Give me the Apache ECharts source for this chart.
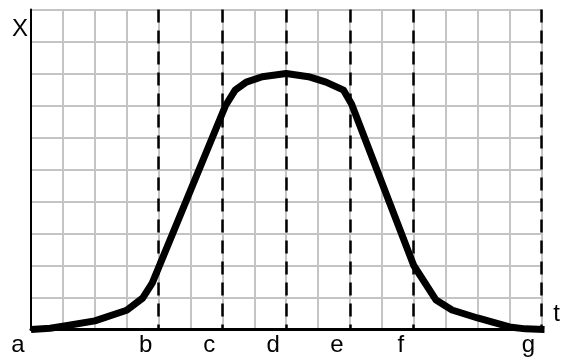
<!DOCTYPE html>
<html>
<head>
<meta charset="utf-8">
<script src="https://cdn.jsdelivr.net/npm/echarts@6/dist/echarts.min.js"></script>
<style>
  html, body { margin: 0; padding: 0; background: #fff; }
  #chart { width: 563px; height: 360px; }
</style>
</head>
<body>
<div id="chart"></div>
<script>
// curve (t in columns, X in rows)
var curveT = [0, 0.6, 1, 2, 3, 3.5, 3.8, 6.1, 6.4, 6.75, 7.25, 8, 8.7, 9.25, 9.8, 10.05, 12, 12.7, 13.2, 14, 15, 15.5, 16.1];
var curveX = [0, 0.04, 0.1, 0.27, 0.6, 0.98, 1.45, 7.0, 7.48, 7.73, 7.9, 8, 7.9, 7.73, 7.48, 7.05, 2.0, 0.92, 0.61, 0.36, 0.08, 0.02, 0];

// dashed markers and tick letters
var dashedAt = [4, 6, 8, 10, 12, 16];
var labelAt = [0, 4, 6, 8, 10, 12, 16];
var labelText = ['a', 'b', 'c', 'd', 'e', 'f', 'g'];

var FONT = 'Liberation Sans, Arial, Helvetica, sans-serif';
var GRID_GRAY = '#c4c4c4';

var myChart = echarts.init(document.getElementById('chart'));

var data = [];
for (var i = 0; i < curveT.length; i++) {
  data.push([curveT[i], curveX[i]]);
}

var marks = [];
for (var j = 0; j < dashedAt.length; j++) {
  marks.push([{ coord: [dashedAt[j], 10] }, { coord: [dashedAt[j], 0] }]);
}

var option = {
  animation: false,
  grid: { left: 31, top: 9.5, width: 512, height: 320, containLabel: false },
  xAxis: {
    type: 'value',
    min: 0,
    max: 16,
    interval: 1,
    name: 't',
    nameLocation: 'end',
    nameGap: 12,
    nameTextStyle: { color: '#000', fontSize: 24, fontFamily: FONT, verticalAlign: 'bottom', align: 'left', padding: [0, 0, 3, 0] },
    axisLine: { show: true, lineStyle: { color: '#000', width: 3 } },
    axisTick: { show: false },
    axisLabel: {
      color: '#000',
      fontSize: 24,
      fontFamily: FONT,
      margin: 4,
      padding: [0, 26, 0, 0],
      showMinLabel: true,
      showMaxLabel: true,
      hideOverlap: false,
      formatter: function (v) {
        var k = labelAt.indexOf(v);
        return k >= 0 ? labelText[k] : '';
      }
    },
    splitLine: { show: true, lineStyle: { color: GRID_GRAY, width: 2 } }
  },
  yAxis: {
    type: 'value',
    min: 0,
    max: 10,
    interval: 1,
    name: 'X',
    nameLocation: 'end',
    nameGap: -8,
    nameTextStyle: { color: '#000', fontSize: 24, fontFamily: FONT, align: 'right', verticalAlign: 'top', padding: [0, 3, 0, 0] },
    axisLine: { show: true, lineStyle: { color: '#000', width: 2 } },
    axisTick: { show: false },
    axisLabel: { show: false },
    splitLine: { show: true, lineStyle: { color: GRID_GRAY, width: 2 } }
  },
  series: [
    {
      type: 'line',
      data: data,
      symbol: 'none',
      clip: false,
      lineStyle: { color: '#000', width: 7, join: 'round' },
      markLine: {
        silent: true,
        symbol: 'none',
        label: { show: false },
        lineStyle: { color: '#000', width: 2.5, type: [13, 8] },
        data: marks
      }
    }
  ]
};
myChart.setOption(option);
</script>
</body>
</html>
